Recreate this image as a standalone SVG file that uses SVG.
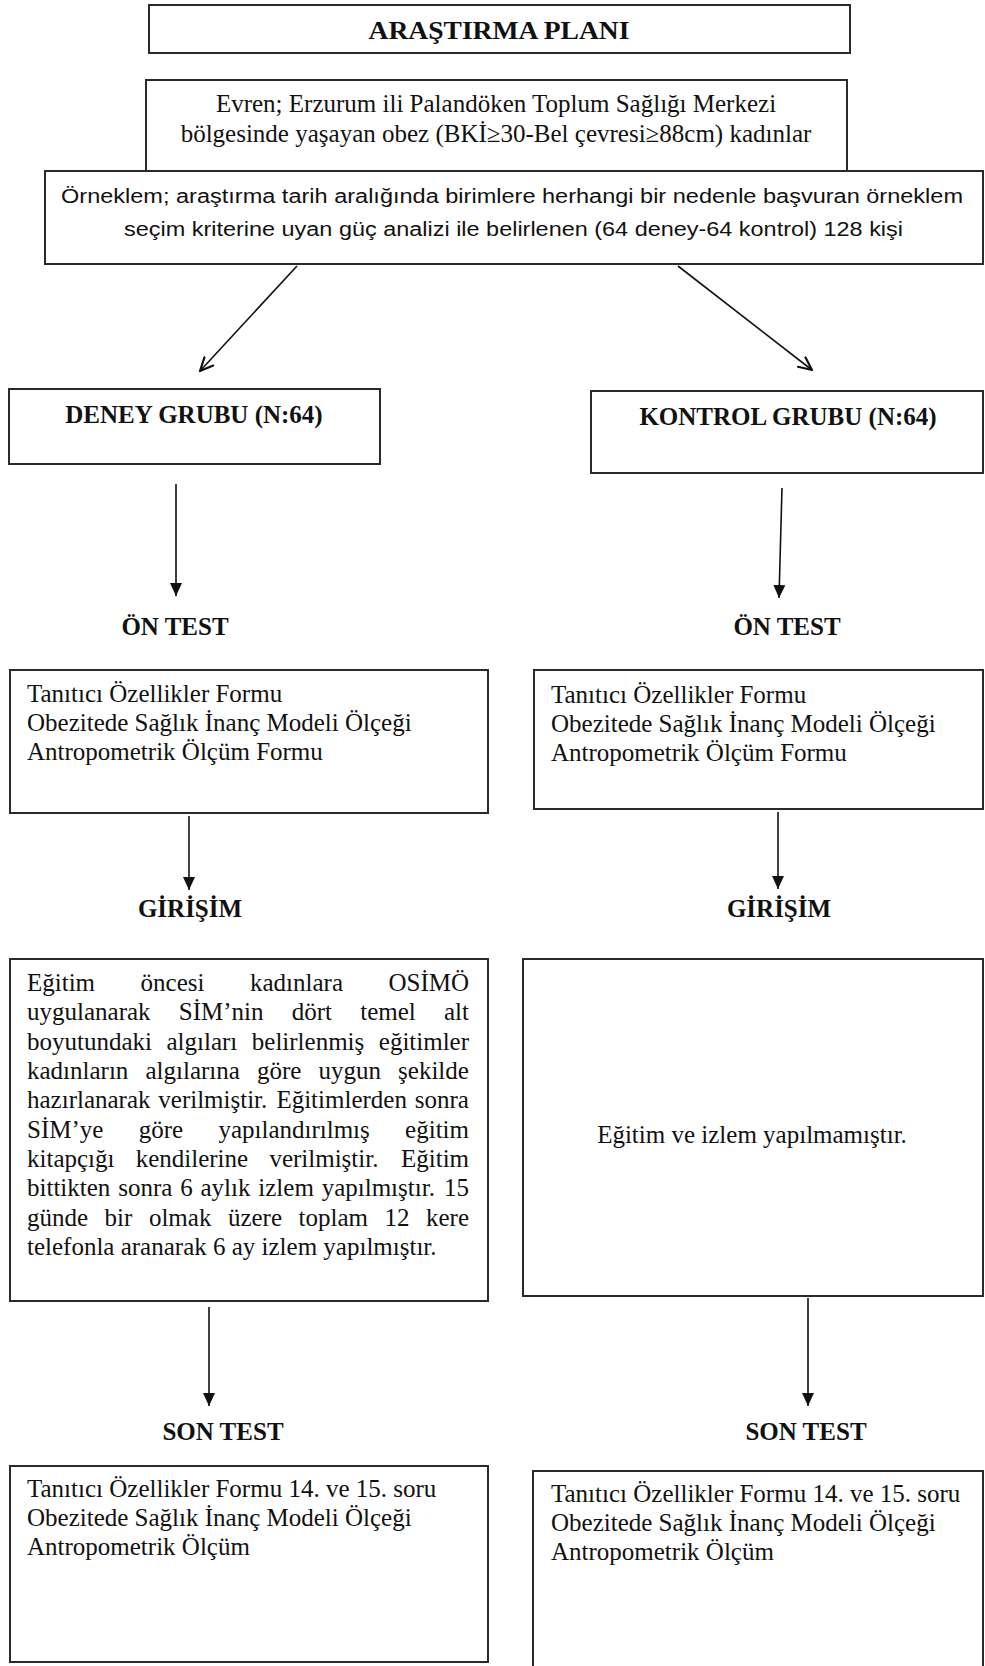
<svg xmlns="http://www.w3.org/2000/svg" width="985" height="1666" viewBox="0 0 985 1666">
<defs>
<marker id="tri" markerUnits="userSpaceOnUse" markerWidth="14" markerHeight="14" viewBox="0 0 14 14" refX="13" refY="6" orient="auto">
<path d="M0,0 L13,6 L0,12 z" fill="#111"/>
</marker>
<marker id="vee" markerUnits="userSpaceOnUse" markerWidth="16" markerHeight="16" viewBox="0 0 16 16" refX="14" refY="7" orient="auto">
<path d="M1,1 L14,7 L1,13" fill="none" stroke="#111" stroke-width="2.2" stroke-linecap="round" stroke-linejoin="round"/>
</marker>
</defs>
<style>
.box{fill:#fff;stroke:#2a2a2a;stroke-width:2}
.t{font-family:"Liberation Serif","Times New Roman",serif;font-size:25px;fill:#111}
.b{font-family:"Liberation Serif","Times New Roman",serif;font-size:25px;font-weight:bold;fill:#111}
.s{font-family:"Liberation Sans",Arial,sans-serif;font-size:20px;fill:#111}
.c{text-anchor:middle}
.ln{stroke:#111;stroke-width:1.6;fill:none}
</style>
<rect width="985" height="1666" fill="#fff"/>

<g id="title">
<rect class="box" x="149" y="5" width="701" height="48"/>
<text class="b c" x="499" y="39" font-size="27" textLength="261" lengthAdjust="spacingAndGlyphs">ARAŞTIRMA PLANI</text>
</g>

<g id="evren">
<rect class="box" x="146" y="80" width="701" height="100"/>
<text class="t c" x="496" y="112">Evren; Erzurum ili Palandöken Toplum Sağlığı Merkezi</text>
<text class="t c" x="496" y="142">bölgesinde yaşayan obez (BKİ≥30-Bel çevresi≥88cm) kadınlar</text>
</g>

<g id="orneklem">
<rect class="box" x="45" y="171" width="938" height="93"/>
<text class="s" x="61" y="203" textLength="902" lengthAdjust="spacingAndGlyphs">Örneklem; araştırma tarih aralığında birimlere herhangi bir nedenle başvuran örneklem</text>
<text class="s" x="124" y="236" textLength="779" lengthAdjust="spacingAndGlyphs">seçim kriterine uyan güç analizi ile belirlenen (64 deney-64 kontrol) 128 kişi</text>
</g>

<g id="deney">
<rect class="box" x="9" y="389" width="371" height="75"/>
<text class="b c" x="194" y="423">DENEY GRUBU (N:64)</text>
</g>

<g id="kontrol">
<rect class="box" x="591" y="391" width="392" height="82"/>
<text class="b c" x="788" y="425">KONTROL GRUBU (N:64)</text>
</g>

<g id="on-test-left">
<text class="b c" x="175" y="635">ÖN TEST</text>
</g>
<g id="on-test-right">
<text class="b c" x="787" y="635">ÖN TEST</text>
</g>

<g id="on-box-left">
<rect class="box" x="10" y="670" width="478" height="143"/>
<text class="t" x="27" y="702">Tanıtıcı Özellikler Formu</text>
<text class="t" x="27" y="731">Obezitede Sağlık İnanç Modeli Ölçeği</text>
<text class="t" x="27" y="760">Antropometrik Ölçüm Formu</text>
</g>

<g id="on-box-right">
<rect class="box" x="534" y="670" width="449" height="139"/>
<text class="t" x="551" y="703">Tanıtıcı Özellikler Formu</text>
<text class="t" x="551" y="732">Obezitede Sağlık İnanç Modeli Ölçeği</text>
<text class="t" x="551" y="761">Antropometrik Ölçüm Formu</text>
</g>

<g id="girisim-left">
<text class="b c" x="190" y="917">GİRİŞİM</text>
</g>
<g id="girisim-right">
<text class="b c" x="779" y="917">GİRİŞİM</text>
</g>

<g id="egitim-box">
<rect class="box" x="10" y="959" width="478" height="342"/>
<text class="t" y="991"><tspan x="27">Eğitim</tspan><tspan x="140.6">öncesi</tspan><tspan x="250">kadınlara</tspan><tspan x="388.5">OSİMÖ</tspan></text>
<text class="t" y="1020"><tspan x="27">uygulanarak</tspan><tspan x="178.8">SİM’nin</tspan><tspan x="291.7">dört</tspan><tspan x="360.2">temel</tspan><tspan x="444">alt</tspan></text>
<text class="t" y="1050"><tspan x="27">boyutundaki</tspan><tspan x="166.5">algıları</tspan><tspan x="251.8">belirlenmiş</tspan><tspan x="378.8">eğitimler</tspan></text>
<text class="t" y="1079"><tspan x="27">kadınların</tspan><tspan x="145.5">algılarına</tspan><tspan x="257">göre</tspan><tspan x="318.5">uygun</tspan><tspan x="398.1">şekilde</tspan></text>
<text class="t" y="1108"><tspan x="27">hazırlanarak</tspan><tspan x="158.3">verilmiştir.</tspan><tspan x="276.4">Eğitimlerden</tspan><tspan x="414.7">sonra</tspan></text>
<text class="t" y="1138"><tspan x="27">SİM’ye</tspan><tspan x="138.7">göre</tspan><tspan x="218.4">yapılandırılmış</tspan><tspan x="405.1">eğitim</tspan></text>
<text class="t" y="1167"><tspan x="27">kitapçığı</tspan><tspan x="135.7">kendilerine</tspan><tspan x="269.4">verilmiştir.</tspan><tspan x="401">Eğitim</tspan></text>
<text class="t" y="1196"><tspan x="27">bittikten</tspan><tspan x="118.2">sonra</tspan><tspan x="180.2">6</tspan><tspan x="200.5">aylık</tspan><tspan x="258.3">izlem</tspan><tspan x="321.7">yapılmıştır.</tspan><tspan x="444.1">15</tspan></text>
<text class="t" y="1226"><tspan x="27">günde</tspan><tspan x="104.6">bir</tspan><tspan x="148.9">olmak</tspan><tspan x="227.9">üzere</tspan><tspan x="298.5">toplam</tspan><tspan x="384.5">12</tspan><tspan x="426">kere</tspan></text>
<text class="t" x="27" y="1255">telefonla aranarak 6 ay izlem yapılmıştır.</text>
</g>

<g id="kontrol-girisim-box">
<rect class="box" x="523" y="959" width="460" height="337"/>
<text class="t c" x="752" y="1143">Eğitim ve izlem yapılmamıştır.</text>
</g>

<g id="son-test-left">
<text class="b c" x="223" y="1440">SON TEST</text>
</g>
<g id="son-test-right">
<text class="b c" x="806" y="1440">SON TEST</text>
</g>

<g id="son-box-left">
<rect class="box" x="10" y="1466" width="478" height="196"/>
<text class="t" x="27" y="1497">Tanıtıcı Özellikler Formu 14. ve 15. soru</text>
<text class="t" x="27" y="1526">Obezitede Sağlık İnanç Modeli Ölçeği</text>
<text class="t" x="27" y="1555">Antropometrik Ölçüm</text>
</g>

<g id="son-box-right">
<rect class="box" x="533" y="1471" width="450" height="220"/>
<text class="t" x="551" y="1502">Tanıtıcı Özellikler Formu 14. ve 15. soru</text>
<text class="t" x="551" y="1531">Obezitede Sağlık İnanç Modeli Ölçeği</text>
<text class="t" x="551" y="1560">Antropometrik Ölçüm</text>
</g>

<g id="connectors">
<line class="ln" x1="297" y1="266" x2="200" y2="371" marker-end="url(#vee)" stroke-width="2"/>
<line class="ln" x1="678" y1="266" x2="812" y2="370" marker-end="url(#vee)" stroke-width="2"/>
<line class="ln" x1="176" y1="484" x2="176" y2="596" marker-end="url(#tri)"/>
<line class="ln" x1="782" y1="488" x2="779" y2="598" marker-end="url(#tri)"/>
<line class="ln" x1="189" y1="816" x2="189" y2="890" marker-end="url(#tri)"/>
<line class="ln" x1="778" y1="812" x2="778" y2="889" marker-end="url(#tri)"/>
<line class="ln" x1="209" y1="1307" x2="209" y2="1406" marker-end="url(#tri)"/>
<line class="ln" x1="808" y1="1298" x2="808" y2="1406" marker-end="url(#tri)"/>
</g>
</svg>
